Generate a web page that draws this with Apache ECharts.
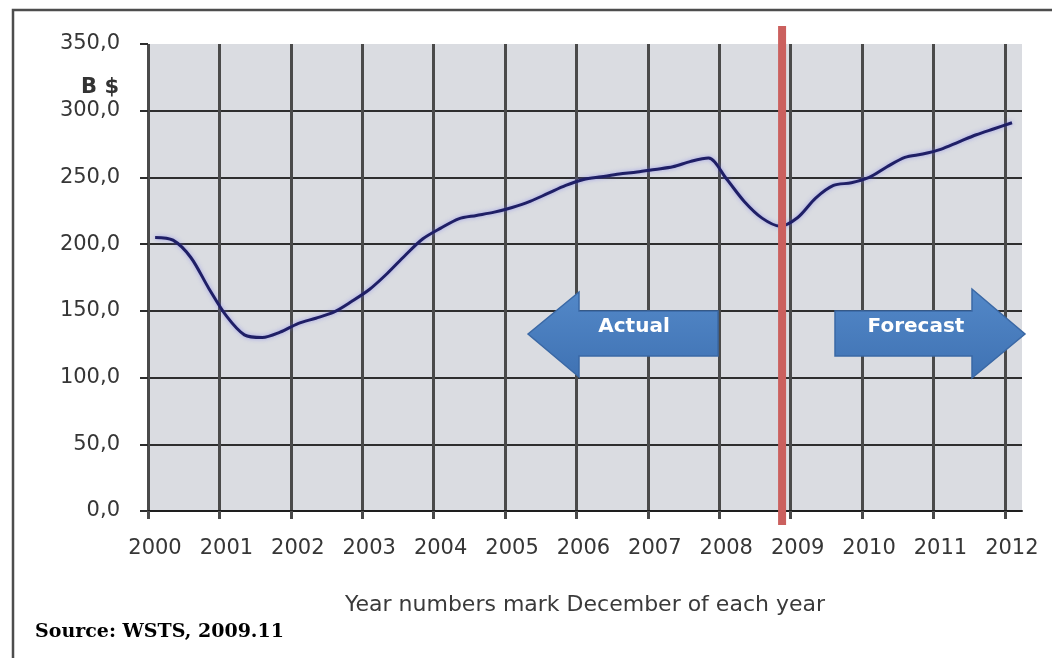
<!DOCTYPE html>
<html>
<head>
<meta charset="utf-8">
<script src="https://cdn.jsdelivr.net/npm/echarts@6/dist/echarts.min.js"></script>
<style>
html,body{margin:0;padding:0;background:#fff;}
#chart{width:1052px;height:658px;}
</style>
</head>
<body>
<div id="chart"></div>
<script>
// Quarterly positions (decimal year; year number = December of that year)
var periods = [2000.10, 2000.35, 2000.60, 2000.85, 2001.10, 2001.35, 2001.60, 2001.85,
  2002.10, 2002.35, 2002.60, 2002.85, 2003.10, 2003.35, 2003.60, 2003.85,
  2004.10, 2004.35, 2004.60, 2004.85, 2005.10, 2005.35, 2005.60, 2005.85,
  2006.10, 2006.35, 2006.60, 2006.85, 2007.10, 2007.35, 2007.60, 2007.85,
  2008.10, 2008.35, 2008.60, 2008.85, 2009.10, 2009.35, 2009.60, 2009.85,
  2010.10, 2010.35, 2010.60, 2010.85, 2011.10, 2011.35, 2011.60, 2011.85, 2012.10];
// Semiconductor market, B$
var marketValues = [205, 203, 190, 167, 146, 132, 130, 134,
  140.5, 144.5, 149, 157, 166, 178, 191.5, 204,
  212, 219, 221.5, 224, 227.5, 232, 238, 244,
  248.5, 250.5, 252.5, 254, 256, 258, 262, 264.5,
  249, 232, 219.5, 213.5, 220, 234.5, 244, 246,
  250, 258, 265, 267.5, 271, 276.5, 282, 286.5, 291];
var yearTicks = [2000, 2001, 2002, 2003, 2004, 2005, 2006, 2007, 2008, 2009, 2010, 2011, 2012];
var yTicks = [0, 50, 100, 150, 200, 250, 300, 350];
var actualForecastBoundary = 2008.88;

var seriesData = periods.map(function (p, i) { return [p, marketValues[i]]; });

var chart = echarts.init(document.getElementById('chart'), null, {renderer: 'canvas'});
var FONT = 'DejaVu Sans';

// split line colours: last (extent end) invisible
var xSplitColors = yearTicks.map(function () { return '#4a4a4a'; }).concat(['rgba(0,0,0,0)']);
var ySplitColors = yTicks.map(function (v, i) { return i === yTicks.length - 1 ? 'rgba(0,0,0,0)' : '#2e2e2e'; });

var option = {
  backgroundColor: '#ffffff',
  animation: false,
  grid: {
    left: 148, right: 30, top: 44, bottom: 147,
    show: true, backgroundColor: '#dadce1', borderWidth: 0
  },
  xAxis: {
    type: 'value',
    min: 2000, max: 2012.24, interval: 1,
    name: 'Year numbers mark December of each year',
    nameLocation: 'middle',
    nameGap: 83,
    nameTextStyle: {fontFamily: FONT, fontSize: 22, color: '#3a3a3a'},
    axisLine: {show: true, onZero: false, lineStyle: {color: '#1e1e1e', width: 2}},
    axisTick: {show: true, length: 8, customValues: yearTicks, lineStyle: {color: '#4a4a4a', width: 3}},
    axisLabel: {
      customValues: yearTicks,
      margin: 27,
      fontFamily: FONT, fontSize: 21, color: '#363636',
      padding: [0, 0, 0, 14],
      formatter: function (v) { return String(Math.round(v)); }
    },
    splitLine: {show: true, lineStyle: {color: xSplitColors, width: 3}}
  },
  yAxis: {
    type: 'value',
    min: 0, max: 350, interval: 50,
    axisLine: {show: false},
    axisTick: {show: true, length: 8, lineStyle: {color: '#2e2e2e', width: 2}},
    axisLabel: {
      margin: 28,
      fontFamily: FONT, fontSize: 21, color: '#363636',
      formatter: function (v) { return v.toFixed(1).replace('.', ','); }
    },
    splitLine: {show: true, lineStyle: {color: ySplitColors, width: 2}}
  },
  series: [{
    type: 'line',
    data: seriesData,
    smooth: 0.3,
    showSymbol: false,
    symbol: 'none',
    clip: false,
    lineStyle: {color: '#1f1f66', width: 3, shadowColor: 'rgba(110,110,240,0.55)', shadowBlur: 4}
  }]
};
chart.setOption(option);

function px(x, y) { return chart.convertToPixel({gridIndex: 0}, [x, y]); }

var redTop = px(actualForecastBoundary, 350);
var redBot = px(actualForecastBoundary, 0);

var arrowFill = new echarts.graphic.LinearGradient(0, 0, 0, 1, [
  {offset: 0, color: '#5388c8'}, {offset: 1, color: '#3f72b3'}
]);

chart.setOption({
  graphic: [
    {type: 'rect', z: 100, silent: true,
      shape: {x: 13, y: 10, width: 1100, height: 700},
      style: {fill: 'none', stroke: '#4d4d4d', lineWidth: 2.5}},
    {type: 'text', z: 100, x: 119, y: 88,
      style: {text: 'B $', fontFamily: FONT, fontSize: 21, fontWeight: 'bold', fill: '#333',
        align: 'right', verticalAlign: 'middle'}},
    {type: 'rect', z: 90, silent: true,
      shape: {x: redTop[0] - 4, y: redTop[1] - 18, width: 8, height: redBot[1] - redTop[1] + 32},
      style: {fill: '#cb605e'}},
    {type: 'polygon', z: 95,
      shape: {points: [[528, 334], [579, 292], [579, 311], [718, 311], [718, 356], [579, 356], [579, 377]]},
      style: {fill: arrowFill, stroke: '#3a68a5', lineWidth: 1.5}},
    {type: 'polygon', z: 95,
      shape: {points: [[835, 311], [972, 311], [972, 289], [1025, 334], [972, 378], [972, 356], [835, 356]]},
      style: {fill: arrowFill, stroke: '#3a68a5', lineWidth: 1.5}},
    {type: 'text', z: 96, x: 634, y: 327,
      style: {text: 'Actual', fontFamily: FONT, fontSize: 20, fontWeight: 'bold', fill: '#ffffff',
        align: 'center', verticalAlign: 'middle'}},
    {type: 'text', z: 96, x: 916, y: 327,
      style: {text: 'Forecast', fontFamily: FONT, fontSize: 20, fontWeight: 'bold', fill: '#ffffff',
        align: 'center', verticalAlign: 'middle'}},
    {type: 'text', z: 100, x: 35, y: 632,
      style: {text: 'Source: WSTS, 2009.11', fontFamily: 'DejaVu Serif', fontSize: 19, fontWeight: 'bold', fill: '#000000',
        align: 'left', verticalAlign: 'middle'}}
  ]
});
</script>
</body>
</html>
